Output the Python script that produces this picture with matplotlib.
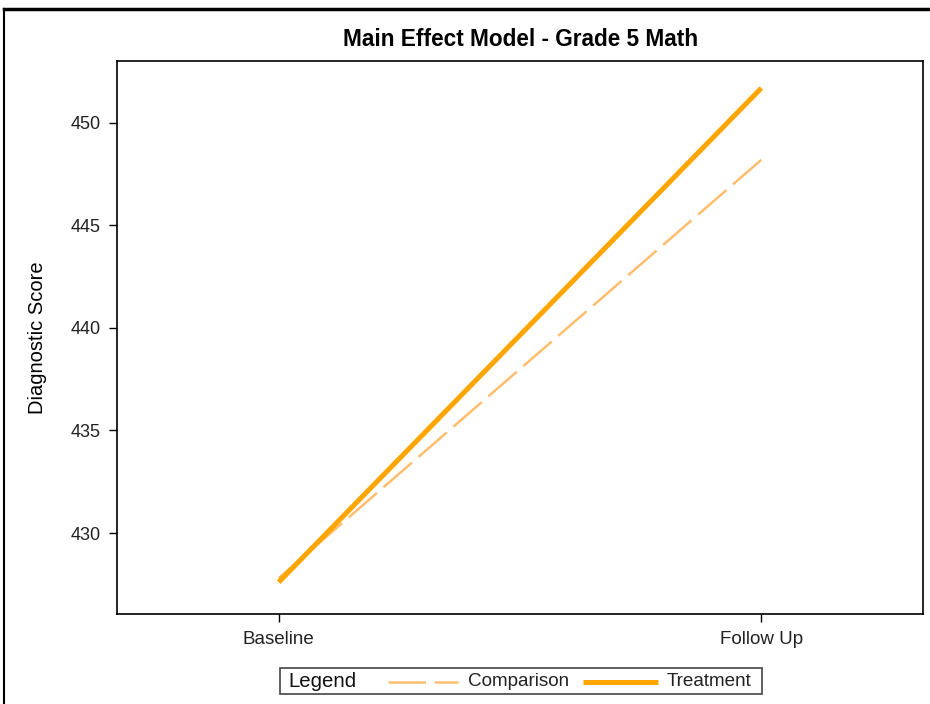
import matplotlib.pyplot as plt
from matplotlib.lines import Line2D
from matplotlib.patches import Rectangle

plt.rcParams['font.family'] = ['Liberation Sans', 'DejaVu Sans']

# data
periods = ["Baseline", "Follow Up"]
comparison = [427.8, 448.2]
treatment = [427.6, 451.7]
y_ticks = [430, 435, 440, 445, 450]

W, H = 930, 704
fig = plt.figure(figsize=(W / 100, H / 100), dpi=100)
ax = fig.add_axes([117 / W, 1 - 614 / H, 806 / W, 553 / H])

comp_style = dict(color='#FFBE6E', lw=1.8, dashes=(15, 3.5))
treat_style = dict(color='#FFA500', lw=3.6, solid_capstyle='butt')

x = range(len(periods))
ax.plot(x, comparison, label='Comparison', **comp_style)
ax.plot(x, treatment, label='Treatment', **treat_style)

ax.set_xlim(-0.335, 1.335)
ax.set_ylim(426.05, 453.02)
ax.set_xticks(list(x))
ax.set_xticklabels(periods, fontsize=13.5, color='#222222')
ax.set_yticks(y_ticks)
ax.set_yticklabels([str(t) for t in y_ticks], fontsize=13, color='#222222')
ax.tick_params(length=6, width=1, pad=6)
ax.set_ylabel("Diagnostic Score", fontsize=14.5, labelpad=17)
for s in ax.spines.values():
    s.set_linewidth(1.2)

fig.text(521 / W, 1 - 39 / H, "Main Effect Model - Grade 5 Math",
         ha='center', va='center', fontsize=16.3, fontweight='bold')

# legend strip, laid out by hand like the SAS one
def fx(px):
    return px / W

def fy(py):
    return 1 - py / H

fig.add_artist(Rectangle((fx(280), fy(694)), fx(762) - fx(280), fy(668) - fy(694),
                         transform=fig.transFigure, fill=False, ec='#444444', lw=1.2))
ly = fy(681.5)
fig.text(fx(288), ly, "Legend", ha='left', va='center', fontsize=14.7, color='#111111')
fig.add_artist(Line2D([fx(388), fx(458)], [ly, ly], transform=fig.transFigure, **comp_style))
fig.text(fx(468), ly, "Comparison", ha='left', va='center', fontsize=13.6, color='#222222')
fig.add_artist(Line2D([fx(583), fx(658)], [ly, ly], transform=fig.transFigure, **treat_style))
fig.text(fx(667), ly, "Treatment", ha='left', va='center', fontsize=13.6, color='#222222')

# outer frame
fig.add_artist(Line2D([fx(4), 1], [fy(9), fy(9)], color='black', lw=2.5, transform=fig.transFigure))
fig.add_artist(Line2D([fx(4), fx(4)], [0, fy(9)], color='black', lw=1.5, transform=fig.transFigure))

fig.savefig("out.png", dpi=100)
